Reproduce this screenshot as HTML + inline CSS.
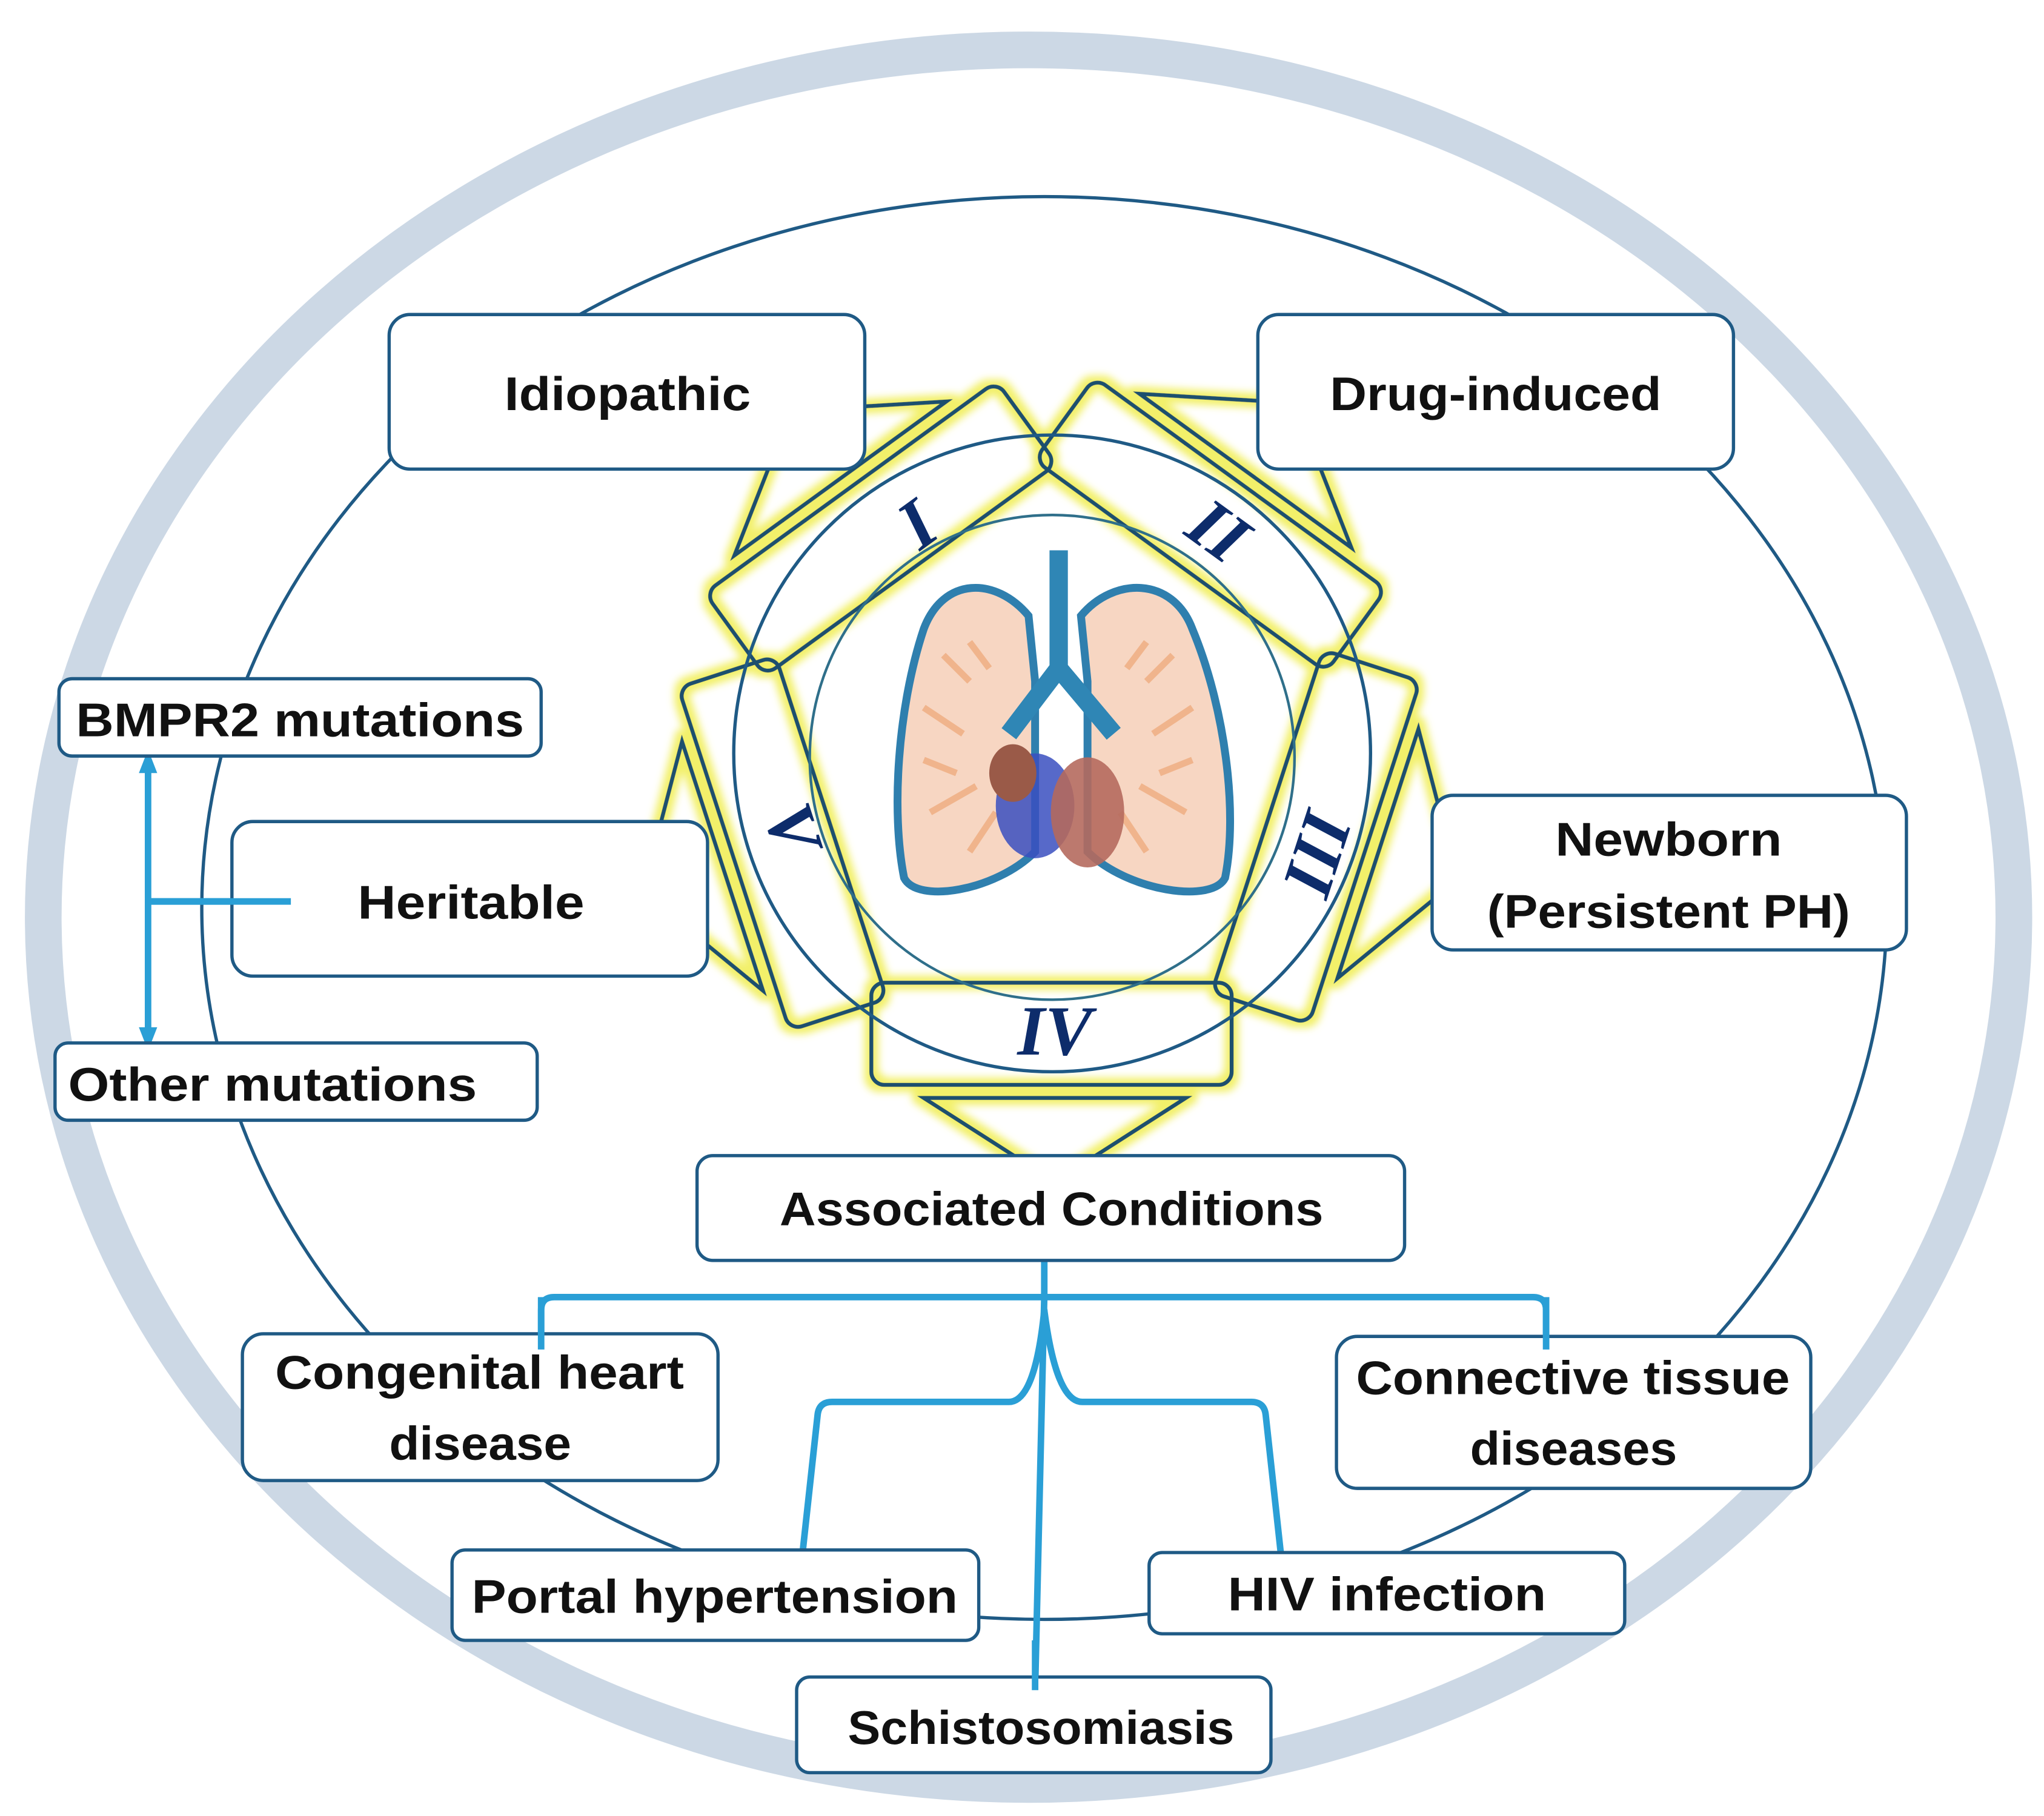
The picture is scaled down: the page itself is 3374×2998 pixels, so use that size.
<!DOCTYPE html>
<html><head><meta charset="utf-8"><style>
html,body{margin:0;padding:0;background:#fff;}
svg{display:block;}
text.lb{font-family:"Liberation Sans",sans-serif;font-weight:bold;fill:#111;}
text.rn{font-family:"Liberation Serif",serif;font-style:italic;font-weight:bold;fill:#0d2c6b;}
</style></head><body>
<svg width="3374" height="2998" viewBox="0 0 1560 1386" xmlns="http://www.w3.org/2000/svg">
<defs>
<filter id="glow" x="-20%" y="-20%" width="140%" height="140%">
<feMorphology in="SourceAlpha" operator="dilate" radius="4" result="d"/>
<feGaussianBlur in="d" stdDeviation="3" result="b"/>
<feFlood flood-color="#f2f06a"/>
<feComposite in2="b" operator="in" result="g"/>
<feMerge><feMergeNode in="g"/><feMergeNode in="SourceGraphic"/></feMerge>
</filter>
<g id="petal">
<rect x="665" y="750" width="275" height="78" rx="10" fill="none" stroke="#1d4f6e" stroke-width="3"/>
<polygon points="705,838 905,838 805,902" fill="none" stroke="#1d4f6e" stroke-width="3"/>
</g>
</defs>
<rect width="1560" height="1386" fill="#fff"/>
<ellipse cx="785" cy="700" rx="752" ry="662" fill="none" stroke="#ccd8e5" stroke-width="28"/>
<ellipse cx="797" cy="693" rx="643" ry="543" fill="none" stroke="#1f5a85" stroke-width="2.5"/>
<g filter="url(#glow)">
<use href="#petal"/>
<use href="#petal" transform="rotate(72 800 575)"/>
<use href="#petal" transform="rotate(144 800 575)"/>
<use href="#petal" transform="rotate(216 800 575)"/>
<use href="#petal" transform="rotate(288 800 575)"/>
</g>
<circle cx="803" cy="575" r="243" fill="none" stroke="#1f5a85" stroke-width="2.5"/>
<circle cx="803" cy="578" r="185" fill="none" stroke="#2f6f8a" stroke-width="2"/>
<g font-size="54">
<text class="rn" x="805" y="805" text-anchor="middle">IV</text>
<text class="rn" transform="translate(700,400) rotate(-36)" y="18" text-anchor="middle">I</text>
<text class="rn" transform="translate(930,405) rotate(36)" y="18" text-anchor="middle">II</text>
<text class="rn" transform="translate(1005,652) rotate(-72)" y="18" text-anchor="middle">III</text>
<text class="rn" transform="translate(605,632) rotate(72)" y="18" text-anchor="middle">V</text>
</g>
<g>
<path d="M785,470 C760,440 720,440 705,480 C685,540 680,620 690,670 C700,690 760,680 790,650 L790,520 Z" fill="#f7d6c2" stroke="#2f7fae" stroke-width="6"/>
<path d="M825,470 C850,440 895,440 910,480 C935,540 945,620 935,670 C925,690 860,680 830,650 L830,520 Z" fill="#f7d6c2" stroke="#2f7fae" stroke-width="6"/>
<g stroke="#f0b48c" stroke-width="5" fill="none">
<path d="M755,510 L740,490 M740,520 L720,500 M735,560 L705,540 M745,600 L710,620 M760,620 L740,650 M730,590 L705,580"/>
<path d="M860,510 L875,490 M875,520 L895,500 M880,560 L910,540 M870,600 L905,620 M855,620 L875,650 M885,590 L910,580"/>
</g>
<path d="M808,420 L808,510 L770,560 M808,510 L850,560" fill="none" stroke="#2f86b5" stroke-width="14"/>
<ellipse cx="790" cy="615" rx="30" ry="40" fill="#3a4fbf" opacity="0.85"/>
<ellipse cx="830" cy="620" rx="28" ry="42" fill="#b56a5e" opacity="0.9"/>
<ellipse cx="773" cy="590" rx="18" ry="22" fill="#9a5a48"/>
</g>
<g stroke="#2a9fd6" stroke-width="5" fill="none" stroke-linecap="round">
<path d="M113,585 L113,790 M113,688 L222,688"/>
<path d="M413,1030 L413,1000 Q413,990 423,990 L1170,990 Q1180,990 1180,1000 L1180,1030"/>
<path d="M797,962 L797,990 L790,1290"/>
<path d="M797,1000 Q790,1070 770,1070 L635,1070 Q625,1070 624,1080 L612,1190"/>
<path d="M797,1000 Q806,1070 826,1070 L955,1070 Q965,1070 966,1080 L978,1190"/>
</g>
<polygon points="113,572 106,590 120,590" fill="#2a9fd6"/>
<polygon points="113,802 106,784 120,784" fill="#2a9fd6"/>
<g fill="#fff" stroke="#1f5a85" stroke-width="2.5">
<rect x="297" y="240" width="363" height="118" rx="16"/>
<rect x="960" y="240" width="363" height="118" rx="16"/>
<rect x="45" y="518" width="368" height="59" rx="10"/>
<rect x="177" y="627" width="363" height="118" rx="16"/>
<rect x="42" y="796" width="368" height="59" rx="10"/>
<rect x="1093" y="607" width="362" height="118" rx="16"/>
<rect x="532" y="882" width="540" height="80" rx="12"/>
<rect x="185" y="1018" width="363" height="112" rx="16"/>
<rect x="1020" y="1020" width="362" height="116" rx="16"/>
<rect x="345" y="1183" width="402" height="69" rx="10"/>
<rect x="877" y="1185" width="363" height="62" rx="10"/>
<rect x="608" y="1280" width="362" height="73" rx="10"/>
</g>
<path d="M113,688 L222,688" stroke="#2a9fd6" stroke-width="5"/>
<path d="M413,990 L413,1030 M1180,990 L1180,1030 M790,1252 L790,1290" stroke="#2a9fd6" stroke-width="5"/>
<g font-size="36">
<text class="lb" x="385" y="313" textLength="188" lengthAdjust="spacingAndGlyphs">Idiopathic</text>
<text class="lb" x="1015" y="313" textLength="253" lengthAdjust="spacingAndGlyphs">Drug-induced</text>
<text class="lb" x="58" y="562" textLength="342" lengthAdjust="spacingAndGlyphs">BMPR2 mutations</text>
<text class="lb" x="273" y="701" textLength="173" lengthAdjust="spacingAndGlyphs">Heritable</text>
<text class="lb" x="52" y="840" textLength="312" lengthAdjust="spacingAndGlyphs">Other mutations</text>
<text class="lb" x="1187" y="653" textLength="173" lengthAdjust="spacingAndGlyphs">Newborn</text>
<text class="lb" x="1135" y="708" textLength="277" lengthAdjust="spacingAndGlyphs">(Persistent PH)</text>
<text class="lb" x="595" y="935" textLength="415" lengthAdjust="spacingAndGlyphs">Associated Conditions</text>
<text class="lb" x="210" y="1060" textLength="312" lengthAdjust="spacingAndGlyphs">Congenital heart</text>
<text class="lb" x="297" y="1114" textLength="139" lengthAdjust="spacingAndGlyphs">disease</text>
<text class="lb" x="1035" y="1064" textLength="331" lengthAdjust="spacingAndGlyphs">Connective tissue</text>
<text class="lb" x="1122" y="1118" textLength="158" lengthAdjust="spacingAndGlyphs">diseases</text>
<text class="lb" x="360" y="1231" textLength="371" lengthAdjust="spacingAndGlyphs">Portal hypertension</text>
<text class="lb" x="937" y="1229" textLength="243" lengthAdjust="spacingAndGlyphs">HIV infection</text>
<text class="lb" x="647" y="1331" textLength="295" lengthAdjust="spacingAndGlyphs">Schistosomiasis</text>
</g>
</svg>
</body></html>
